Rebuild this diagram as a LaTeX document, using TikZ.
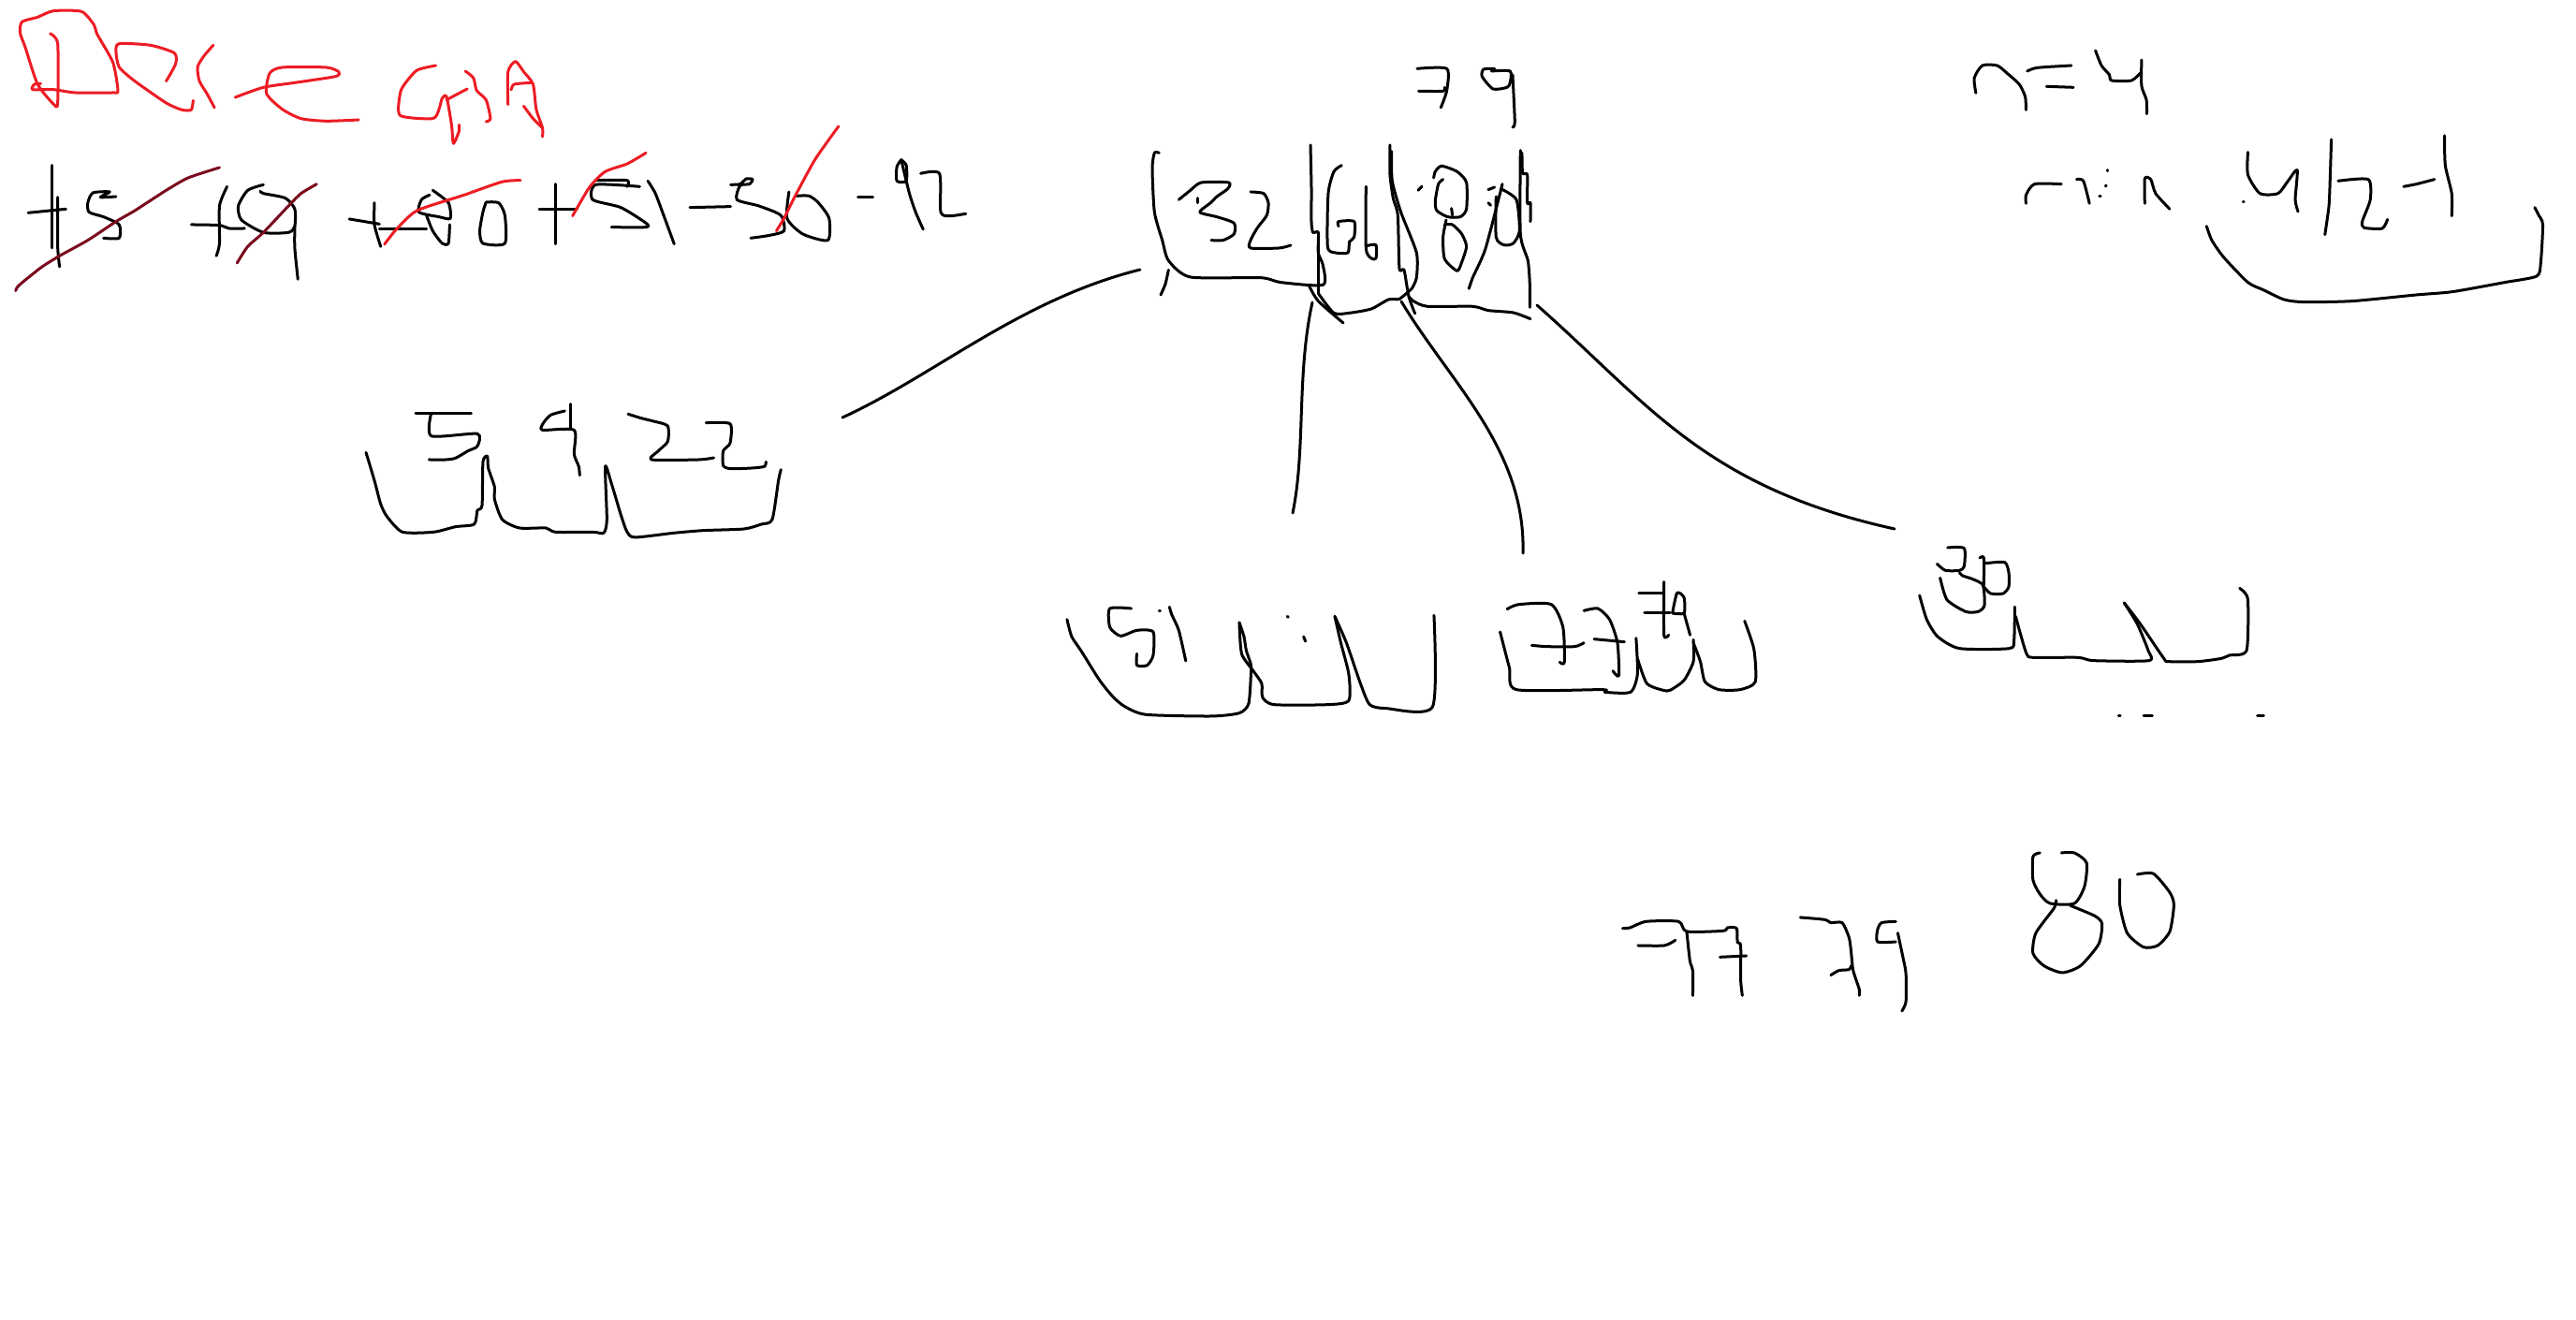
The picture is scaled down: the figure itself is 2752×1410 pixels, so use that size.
\documentclass[tikz,border=0pt]{standalone}
\definecolor{butred}{HTML}{ED1C24}
\definecolor{butdark}{HTML}{7A0A1E}
% mot net ve tay: danh sach diem
\newcommand{\penline}[2][ink]{\draw[#1] plot[smooth,tension=.4] coordinates {#2};}
\begin{document}
\begin{tikzpicture}[x=.01cm,y=-.01cm,
	ink/.style={draw=black,line width=.3mm},
	redink/.style={draw=butred,line width=.3mm},
	darkink/.style={draw=butdark,line width=.3mm},
	line join=round,line cap=round]
	\useasboundingbox (0,0) rectangle (2752,1410);

	% Tieu de va day so
	\begin{scope}[xscale=.67,yscale=.3333]
		\penline[redink]{(80,108) (92,140) (92,330) (86,335) (60,270) (40,150) (32,105) (35,70) (60,55) (85,35) (130,37) (150,80) (155,110) (180,200) (188,290) (180,297) (120,297) (85,287) (52,287) (55,270) (65,268)}
		\penline[redink]{(265,260) (280,205) (278,170) (240,145) (190,140) (185,165) (190,215) (215,260) (265,330) (290,352) (305,352) (308,322)}
		\penline[redink]{(340,145) (325,180) (315,215) (318,260) (330,300) (342,345)}
		\penline[redink]{(375,312) (420,280) (470,265) (535,245) (540,230) (520,216) (450,216) (430,235) (425,300) (450,350) (480,380) (520,388) (572,384)}
		\penline[redink]{(695,210) (665,225) (645,270) (638,300) (638,370) (690,380) (700,350) (705,315) (712,310) (720,400) (723,460) (732,420) (732,400)}
		\penline[redink]{(712,320) (745,285)}
		\penline[redink]{(742,228) (755,250) (760,290) (775,320) (782,380) (775,390)}
		\penline[redink]{(810,335) (810,230) (822,197) (835,230) (850,270) (855,350) (865,410) (865,438)}
		\penline[redink]{(815,288) (820,270) (848,265)}
		\penline[redink]{(835,340) (850,380) (865,410)}
		% +5
		\penline{(83,530) (83,795)}
		\penline{(45,682) (105,670)}
		\penline{(92,632) (92,790) (95,855)}
		\penline{(185,630) (160,632) (175,615) (148,618) (140,650) (142,680) (165,695) (190,720) (190,763) (165,763)}
		% +19
		\penline{(362,598) (350,660) (350,780) (345,820)}
		\penline{(305,720) (350,722) (365,732) (390,732)}
		\penline{(420,592) (395,610) (380,660) (385,705) (420,745) (460,745) (470,725) (470,670) (455,635) (420,620) (415,613)}
		\penline{(470,725) (470,795) (475,895)}
		% +80
		\penline{(557,702) (605,718)}
		\penline{(597,650) (597,720) (607,790)}
		\penline{(605,733) (680,733)}
		\penline{(685,625) (672,640) (668,680) (700,695) (718,700) (715,650) (690,610)}
		\penline{(680,690) (690,740) (705,780) (715,780) (717,720)}
		\penline{(775,648) (795,650) (805,690) (805,780) (770,780) (765,740) (770,680) (775,648)}
		% +51
		\penline{(886,590) (886,782)}
		\penline{(860,670) (920,670)}
		\penline{(1020,598) (950,592) (945,640) (990,665) (1030,715) (1030,728) (975,728)}
		\penline{(950,578) (1000,578) (1000,598)}
		\penline{(1033,580) (1045,620) (1060,700) (1075,782)}
		% -56
		\penline{(1100,665) (1165,662)}
		\penline{(1165,592) (1180,590) (1190,573) (1200,575) (1195,590) (1180,595) (1175,640) (1210,660) (1245,690) (1250,740) (1225,755) (1197,763)}
		\penline{(1258,615) (1255,700) (1280,750) (1320,770) (1322,700) (1305,650) (1290,628) (1270,628)}
		% -12
		\penline{(1368,632) (1392,632)}
		\penline{(1437,512) (1430,535) (1430,580) (1445,580) (1445,530) (1437,512)}
		\penline{(1437,512) (1450,620) (1460,680) (1472,735)}
		\penline{(1468,556) (1498,556) (1500,680) (1515,692) (1540,685)}
		% cac net gach
		\penline[darkink]{(25,932) (30,915) (65,858) (95,820) (140,770) (185,710) (215,675) (265,610) (300,570) (350,537)}
		\penline[darkink]{(378,843) (395,790) (420,745) (460,660) (480,620) (505,590)}
		\penline[redink]{(613,783) (632,735) (665,675) (740,625) (800,583) (830,578)}
		\penline[redink]{(913,692) (940,600) (965,550) (1000,525) (1030,490)}
		\penline[redink]{(1238,740) (1250,700) (1270,620) (1300,510) (1337,405)}
	\end{scope}

	% Nut goc
	\begin{scope}[shift={(1200,40)},scale=.3333]
		\penline{(115,370) (100,370) (93,420) (100,560) (125,650) (145,715) (215,768) (440,770) (505,785) (640,793) (640,730) (625,690) (625,625) (608,625) (603,590) (603,480) (600,345)}
		\penline{(625,625) (625,790) (625,820)}
		\penline{(145,745) (135,790) (120,825)}
		\penline{(178,520) (215,490) (250,465) (338,465) (335,485) (300,510) (280,530) (245,560) (300,575) (355,595) (355,630) (320,650) (282,650)}
		\penline{(238,515) (238,530)}
		\penline{(408,495) (450,500) (465,530) (460,570) (430,610) (408,650) (408,675) (500,675) (537,666)}
		\penline{(700,410) (675,430) (657,500) (655,670) (680,690) (720,690) (725,655) (740,640) (740,590) (690,590) (690,605)}
		\penline{(778,478) (778,675) (795,708) (810,708) (810,665) (780,668)}
		\penline{(595,795) (625,845) (705,915)}
		\penline{(625,820) (675,883) (725,883) (795,870) (850,840) (885,838) (925,805)}
		\penline{(855,345) (855,440) (865,515) (880,570) (885,740) (900,745) (915,830) (935,885)}
		\penline{(860,365) (862,460) (890,560) (940,690) (940,770) (925,805)}
		\penline{(915,830) (930,845) (975,862) (1120,862) (1170,875) (1250,882) (1305,902)}
		\penline{(1025,455) (1010,470) (1000,525) (1005,555) (1040,575) (1080,575) (1100,550) (1100,465) (1070,430) (1020,412) (1000,430) (995,450)}
		\penline{(1035,585) (1025,640) (1030,710) (1070,748) (1085,720) (1100,670) (1085,630) (1055,600) (1030,600)}
		\penline{(945,490) (957,478)}
		\penline{(1052,548) (1055,570)}
		\penline{(1108,805) (1120,770) (1160,680) (1205,510) (1215,470)}
		\penline{(1170,488) (1190,480)}
		\penline{(1210,485) (1260,520) (1270,620) (1250,660) (1220,665) (1195,640) (1195,510)}
		\penline{(1170,530) (1178,538)}
		\penline{(1273,362) (1273,630) (1297,715) (1303,790) (1303,865)}
		\penline{(1278,370) (1280,435) (1295,440) (1295,530) (1305,530) (1305,590)}
		% 79
		\penline{(942,100) (1037,100) (1037,170) (1018,225)}
		\penline{(947,172) (1025,172) (1030,160)}
		\penline{(1190,100) (1155,102) (1150,125) (1185,165) (1230,160) (1240,145) (1240,108) (1180,108)}
		\penline{(1248,120) (1255,270) (1248,288)}
	\end{scope}

	% Cac canh cua cay
	\coordinate (rootA) at (1218,288);
	\coordinate (keyA) at (900,446);
	\coordinate (rootB) at (1402,323);
	\coordinate (keyB) at (1381,548);
	\coordinate (rootC) at (1497,322);
	\coordinate (keyC) at (1627,591);
	\coordinate (rootD) at (1642,326);
	\coordinate (keyD) at (2024,565);
	\draw[ink] (rootA) .. controls (1090,320) and (1000,400) .. (keyA);
	\draw[ink] (rootB) .. controls (1385,400) and (1395,480) .. (keyB);
	\draw[ink] (rootC) .. controls (1550,410) and (1630,480) .. (keyC);
	\draw[ink] (rootD) .. controls (1760,430) and (1820,520) .. (keyD);

	% n=4
	\begin{scope}[shift={(2080,40)},xscale=.4286,yscale=.3333]
		\penline{(72,178) (68,130) (88,90) (125,90) (150,115) (180,150) (195,190) (197,232)}
		\penline{(200,108) (225,97) (310,90)}
		\penline{(248,157) (315,160)}
		\penline{(370,42) (385,90) (405,120) (410,138) (460,138) (485,110)}
		\penline{(485,72) (485,155) (497,200) (498,245)}
		\penline{(197,532) (197,505) (218,470) (285,470)}
		\penline{(323,455) (340,460) (355,532)}
		\penline{(400,425) (400,428)}
		\penline{(395,477) (397,474)}
		\penline{(380,508) (383,508)}
		\penline{(738,527) (740,527)}
		\penline{(493,532) (493,452) (508,455) (520,500) (555,550)}
		\penline{(750,368) (750,440) (780,500) (825,500) (850,460) (873,425) (868,520) (875,558)}
		\penline{(958,327) (955,450) (952,540) (942,632)}
		\penline{(975,460) (1050,455) (1055,520) (1035,590) (1040,610) (1085,612) (1098,583)}
		\penline{(1138,478) (1170,470) (1215,455)}
		\penline{(1240,315) (1242,410) (1258,500) (1258,572)}
		\penline{(647,605) (660,650) (690,705) (750,785) (790,810) (840,840) (890,848) (1010,845) (1170,825) (1260,815) (1390,785) (1470,765) (1480,720) (1485,600) (1475,570) (1465,545)}
	\end{scope}

	% Nut 5 9 22
	\begin{scope}[shift={(370,410)},scale=.3333]
		\penline{(222,94) (400,94)}
		\penline{(272,94) (272,167) (420,160) (420,200) (390,215) (350,238) (320,243) (265,243)}
		\penline{(700,87) (655,100) (632,125) (628,148) (730,148) (730,225) (745,265) (748,293)}
		\penline{(718,65) (718,140)}
		\penline{(903,97) (945,110) (985,120) (1030,135) (1030,185) (1000,215) (978,243) (1130,243) (1178,237)}
		\penline{(1153,125) (1230,128) (1230,190) (1208,215) (1208,262) (1232,272) (1300,270) (1340,265) (1345,250)}
		\penline{(63,220) (90,310) (110,385) (130,425) (180,475) (280,475) (350,458) (410,450) (420,405) (435,390) (438,250) (452,232) (455,270) (475,330) (475,370) (500,435) (555,462) (640,462) (670,475) (790,475) (825,478) (835,435) (830,265) (850,320) (880,420) (900,475) (925,492) (1050,478) (1145,470) (1275,465) (1330,450) (1365,435) (1385,310) (1393,275)}
	\end{scope}

	% Nut 51 va nut 77 79
	\begin{scope}[shift={(1120,620)},xscale=.4975,yscale=.3333]
		\penline{(178,90) (132,90) (132,150) (155,178) (190,160) (225,165) (225,240) (212,272) (190,272) (190,235)}
		\penline{(260,85) (265,110) (280,160) (295,258)}
		\penline{(238,97) (240,97)}
		\penline{(513,115) (515,118)}
		\penline{(548,180) (552,195)}
		\penline{(40,125) (50,180) (70,225) (110,320) (140,375) (165,405) (210,430) (350,435) (410,425) (430,395) (435,300) (435,270) (425,225) (420,180) (410,135)}
		\penline{(410,135) (415,235) (440,290) (458,330) (460,375) (485,398) (600,398) (645,385) (645,300) (628,200) (615,115)}
		\penline{(615,115) (640,200) (670,330) (690,398) (725,410) (825,405) (828,112)}
		\penline{(985,92) (1010,77) (1080,77) (1105,150) (1108,262) (1098,262)}
		\penline{(1038,208) (1070,212) (1130,212) (1150,200)}
		\penline{(1150,97) (1180,90) (1205,125) (1222,200) (1225,305) (1212,290)}
		\penline{(1172,188) (1237,197)}
		\penline{(1268,42) (1322,42)}
		\penline{(1322,5) (1322,175) (1332,175)}
		\penline{(1280,105) (1335,105)}
		\penline{(1340,105) (1350,40) (1365,55) (1365,105) (1340,105)}
		\penline{(1365,105) (1378,175)}
		\penline{(970,165) (990,280) (1005,350) (1190,350) (1195,358) (1250,358) (1265,300) (1262,185)}
		\penline{(1265,250) (1285,330) (1320,352) (1335,352) (1365,320) (1385,260) (1385,190)}
		\penline{(1385,200) (1400,260) (1410,325) (1440,350) (1485,350) (1518,325) (1515,220) (1495,130)}
	\end{scope}

	% Nut 30
	\begin{scope}[shift={(2030,570)},scale=.3333]
		\penline{(152,45) (205,47) (205,105) (190,118) (145,118) (118,97)}
		\penline{(190,125) (200,135) (230,145) (265,165) (270,230) (250,250) (210,250) (150,212) (128,142)}
		\penline{(255,78) (268,78) (268,165)}
		\penline{(275,95) (335,92) (348,125) (348,170) (330,192) (290,192) (268,170)}
		\penline{(62,198) (85,275) (120,330) (190,368) (350,368) (365,340) (367,235)}
		\penline{(370,265) (385,320) (405,385) (425,397) (570,397) (620,407) (797,407) (795,375) (760,290) (718,222)}
		\penline{(718,222) (770,290) (845,400) (860,410) (955,410) (1030,400) (1055,390) (1110,375) (1115,220) (1105,190) (1088,175)}
		\penline{(780,583) (808,583)}
		\penline{(1145,583) (1165,583)}
		\penline{(700,583) (705,583)}
	\end{scope}

	% 77 79 80
	\begin{scope}[shift={(1700,890)},xscale=.4337,yscale=.3333]
		\penline{(77,305) (95,303) (135,283) (215,283) (235,315) (325,313) (335,303) (358,305) (360,350) (368,360) (368,470) (372,520)}
		\penline{(235,315) (243,410) (250,440) (250,520)}
		\penline{(115,360) (180,360) (207,343)}
		\penline{(317,397) (382,393)}
		\penline{(515,270) (575,277) (590,287) (618,287) (635,335) (640,380) (645,440) (660,500) (660,520)}
		\penline{(590,455) (610,440) (635,437) (640,425)}
		\penline{(750,283) (715,287) (705,310) (705,348) (750,348)}
		\penline{(755,320) (768,400) (775,450) (775,540) (765,570)}
		\penline{(1105,63) (1088,75) (1088,150) (1105,195) (1130,225) (1190,225) (1215,170) (1220,95) (1190,63) (1158,63)}
		\penline{(1145,215) (1140,240) (1095,320) (1088,385) (1115,425) (1160,447) (1205,425) (1250,355) (1258,290) (1240,265) (1180,232)}
		\penline{(1302,148) (1302,230) (1320,320) (1360,365) (1395,360) (1425,315) (1435,230) (1425,190) (1385,130) (1345,132)}
	\end{scope}
\end{tikzpicture}
\end{document}
